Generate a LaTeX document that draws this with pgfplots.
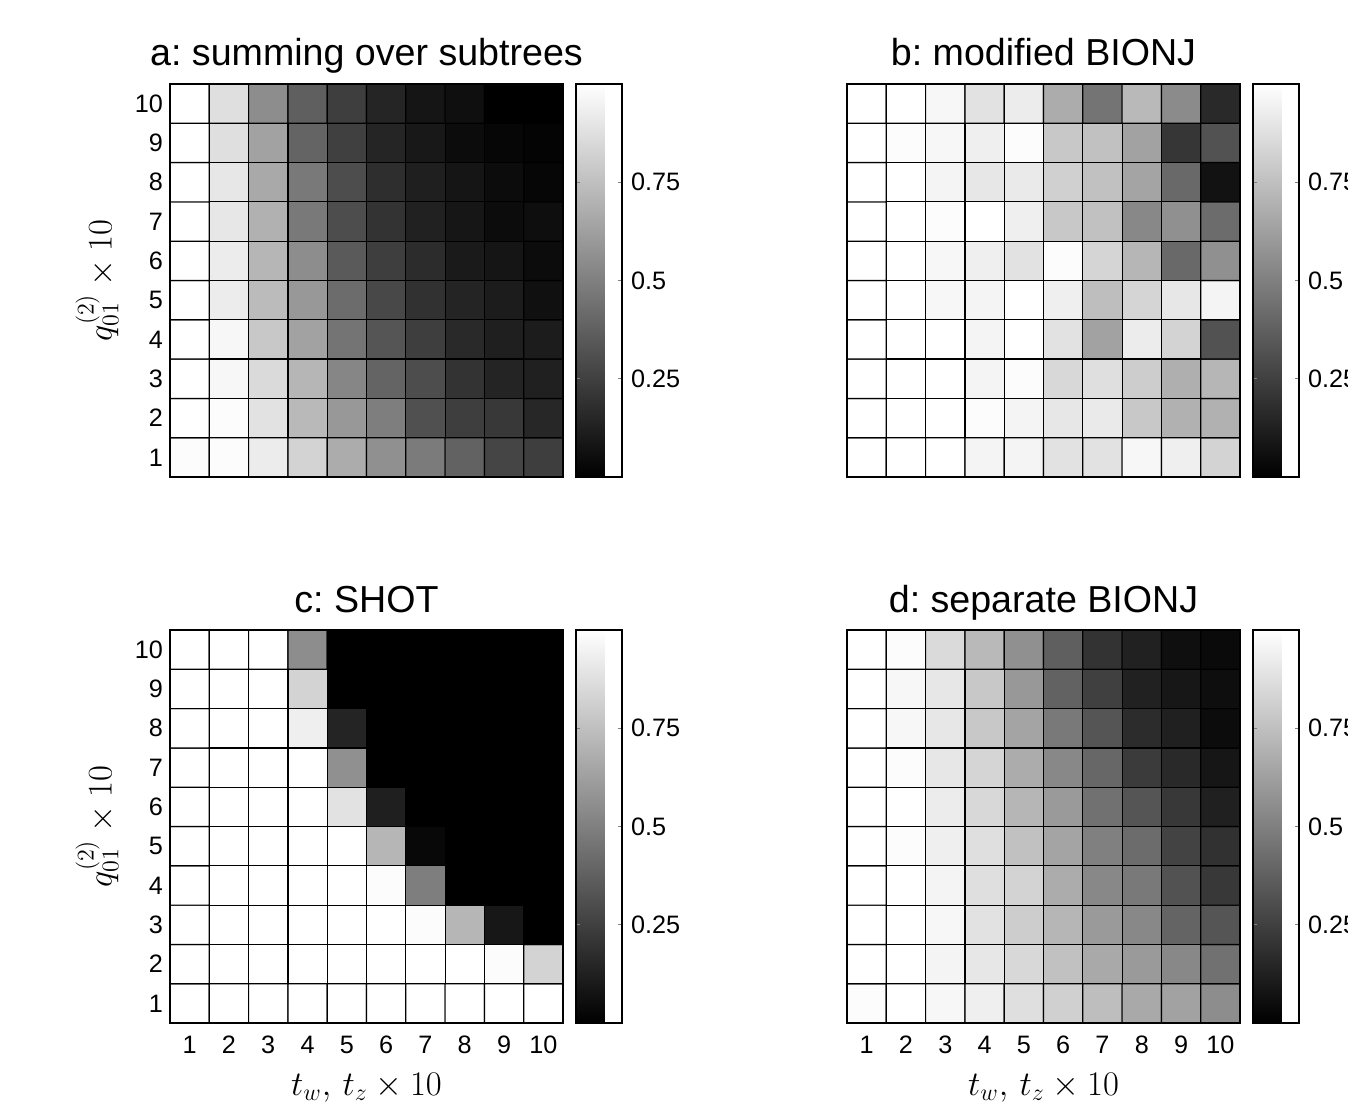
\documentclass[border=0pt]{standalone}
\usepackage[no-math]{fontspec}
\setmainfont{Liberation Sans}
\usepackage{pgfplots}
\pgfplotsset{compat=1.18}
\frenchspacing

\pgfplotsset{
 hm/.style={
  scale only axis, width=196.5pt, height=196.5pt,
  xmin=0.5, xmax=10.5, ymin=0.5, ymax=10.5,
  xtick={1,...,10}, ytick={1,...,10},
  major tick length=0pt,
  axis on top,
  axis line style={line width=0.6pt},
  colormap/blackwhite,
  point meta min=0, point meta max=1,
  colorbar,
  colorbar style={
    at={(1.033,1)}, anchor=north west,
    scale only axis, width=23pt,
    ytick={0.25,0.5,0.75},
    yticklabels={0.25,0.5,0.75},
    yticklabel pos=right,
    ytick pos=both,
    tick align=inside,
    major tick length=2pt,
    tick style={line width=0.6pt},
    axis line style={line width=0.6pt},
    yticklabel style={font=\fontsize{12.6}{15}\selectfont, xshift=1pt},
    /pgf/number format/assume math mode=true,
  },
  tick label style={font=\fontsize{12.6}{15}\selectfont},
  xticklabel style={anchor=base, yshift=-15pt},
  /pgf/number format/assume math mode=true,
  title style={at={(0.5,1)}, anchor=base, yshift=3pt, font=\fontsize{18.8}{22}\selectfont},
  label style={font=\fontsize{17}{20}\selectfont},
  xlabel style={at={(axis description cs:0.5,0)}, anchor=base, yshift=-36pt},
  ylabel style={at={(axis description cs:0,0.5)}, anchor=center, rotate=0, yshift=36.5pt},
 },
 cells/.style={matrix plot*, mesh/cols=10, point meta=explicit, draw=black, line width=0.6pt},
}

\begin{document}
\begin{tikzpicture}
\useasboundingbox (0,0) rectangle (674pt,552.5pt);

% a
\begin{axis}[hm, at={(85pt,314pt)}, anchor=south west,
  title={a: summing over subtrees}, xticklabels={},
  ylabel={$q^{(2)}_{01}\times 10$}]
\addplot[cells] coordinates {
(1,1)[0.98] (2,1)[0.98] (3,1)[0.92] (4,1)[0.82] (5,1)[0.67] (6,1)[0.56] (7,1)[0.48] (8,1)[0.38] (9,1)[0.27] (10,1)[0.24]
(1,2)[1.00] (2,2)[0.98] (3,2)[0.88] (4,2)[0.72] (5,2)[0.59] (6,2)[0.49] (7,2)[0.31] (8,2)[0.24] (9,2)[0.22] (10,2)[0.15]
(1,3)[1.00] (2,3)[0.96] (3,3)[0.85] (4,3)[0.71] (5,3)[0.52] (6,3)[0.39] (7,3)[0.30] (8,3)[0.20] (9,3)[0.14] (10,3)[0.125]
(1,4)[1.00] (2,4)[0.96] (3,4)[0.78] (4,4)[0.63] (5,4)[0.45] (6,4)[0.33] (7,4)[0.24] (8,4)[0.16] (9,4)[0.12] (10,4)[0.11]
(1,5)[1.00] (2,5)[0.92] (3,5)[0.73] (4,5)[0.59] (5,5)[0.42] (6,5)[0.28] (7,5)[0.19] (8,5)[0.14] (9,5)[0.11] (10,5)[0.063]
(1,6)[1.00] (2,6)[0.92] (3,6)[0.71] (4,6)[0.55] (5,6)[0.35] (6,6)[0.24] (7,6)[0.17] (8,6)[0.10] (9,6)[0.08] (10,6)[0.047]
(1,7)[1.00] (2,7)[0.90] (3,7)[0.69] (4,7)[0.47] (5,7)[0.30] (6,7)[0.20] (7,7)[0.13] (8,7)[0.086] (9,7)[0.047] (10,7)[0.055]
(1,8)[1.00] (2,8)[0.90] (3,8)[0.66] (4,8)[0.47] (5,8)[0.30] (6,8)[0.18] (7,8)[0.12] (8,8)[0.08] (9,8)[0.047] (10,8)[0.024]
(1,9)[1.00] (2,9)[0.87] (3,9)[0.63] (4,9)[0.39] (5,9)[0.25] (6,9)[0.145] (7,9)[0.094] (8,9)[0.047] (9,9)[0.024] (10,9)[0.016]
(1,10)[1.00] (2,10)[0.87] (3,10)[0.55] (4,10)[0.37] (5,10)[0.24] (6,10)[0.145] (7,10)[0.08] (8,10)[0.06] (9,10)[0.0] (10,10)[0.0]
};
\end{axis}

% b
\begin{axis}[hm, at={(423.5pt,314pt)}, anchor=south west,
  title={b: modified BIONJ}, xticklabels={}, yticklabels={}]
\addplot[cells] coordinates {
(1,1)[1] (2,1)[1] (3,1)[1] (4,1)[0.95] (5,1)[0.95] (6,1)[0.88] (7,1)[0.88] (8,1)[0.96] (9,1)[0.93] (10,1)[0.82]
(1,2)[1] (2,2)[1] (3,2)[1] (4,2)[0.98] (5,2)[0.95] (6,2)[0.90] (7,2)[0.91] (8,2)[0.78] (9,2)[0.69] (10,2)[0.69]
(1,3)[1] (2,3)[1] (3,3)[1] (4,3)[0.95] (5,3)[0.98] (6,3)[0.84] (7,3)[0.87] (8,3)[0.80] (9,3)[0.68] (10,3)[0.71]
(1,4)[1] (2,4)[1] (3,4)[1] (4,4)[0.95] (5,4)[1] (6,4)[0.88] (7,4)[0.63] (8,4)[0.92] (9,4)[0.82] (10,4)[0.32]
(1,5)[1] (2,5)[1] (3,5)[0.96] (4,5)[0.95] (5,5)[1] (6,5)[0.93] (7,5)[0.74] (8,5)[0.83] (9,5)[0.90] (10,5)[0.95]
(1,6)[1] (2,6)[1] (3,6)[0.96] (4,6)[0.93] (5,6)[0.88] (6,6)[0.98] (7,6)[0.83] (8,6)[0.71] (9,6)[0.41] (10,6)[0.56]
(1,7)[1] (2,7)[1] (3,7)[0.98] (4,7)[1] (5,7)[0.93] (6,7)[0.78] (7,7)[0.75] (8,7)[0.53] (9,7)[0.56] (10,7)[0.42]
(1,8)[1] (2,8)[1] (3,8)[0.95] (4,8)[0.90] (5,8)[0.91] (6,8)[0.81] (7,8)[0.75] (8,8)[0.64] (9,8)[0.41] (10,8)[0.07]
(1,9)[1] (2,9)[0.98] (3,9)[0.96] (4,9)[0.93] (5,9)[0.98] (6,9)[0.78] (7,9)[0.75] (8,9)[0.63] (9,9)[0.21] (10,9)[0.32]
(1,10)[1] (2,10)[1] (3,10)[0.96] (4,10)[0.88] (5,10)[0.92] (6,10)[0.67] (7,10)[0.45] (8,10)[0.72] (9,10)[0.54] (10,10)[0.16]
};
\end{axis}

% c
\begin{axis}[hm, at={(85pt,41pt)}, anchor=south west,
  title={c: SHOT},
  xlabel={$t_w,\, t_z\times 10$},
  ylabel={$q^{(2)}_{01}\times 10$}]
\addplot[cells] coordinates {
(1,1)[1] (2,1)[1] (3,1)[1] (4,1)[1] (5,1)[1] (6,1)[1] (7,1)[1] (8,1)[1] (9,1)[1] (10,1)[1]
(1,2)[1] (2,2)[1] (3,2)[1] (4,2)[1] (5,2)[1] (6,2)[1] (7,2)[1] (8,2)[1] (9,2)[0.98] (10,2)[0.82]
(1,3)[1] (2,3)[1] (3,3)[1] (4,3)[1] (5,3)[1] (6,3)[1] (7,3)[0.98] (8,3)[0.71] (9,3)[0.09] (10,3)[0]
(1,4)[1] (2,4)[1] (3,4)[1] (4,4)[1] (5,4)[1] (6,4)[0.98] (7,4)[0.49] (8,4)[0] (9,4)[0] (10,4)[0]
(1,5)[1] (2,5)[1] (3,5)[1] (4,5)[1] (5,5)[1] (6,5)[0.71] (7,5)[0.03] (8,5)[0] (9,5)[0] (10,5)[0]
(1,6)[1] (2,6)[1] (3,6)[1] (4,6)[1] (5,6)[0.88] (6,6)[0.12] (7,6)[0] (8,6)[0] (9,6)[0] (10,6)[0]
(1,7)[1] (2,7)[1] (3,7)[1] (4,7)[1] (5,7)[0.56] (6,7)[0] (7,7)[0] (8,7)[0] (9,7)[0] (10,7)[0]
(1,8)[1] (2,8)[1] (3,8)[1] (4,8)[0.93] (5,8)[0.14] (6,8)[0] (7,8)[0] (8,8)[0] (9,8)[0] (10,8)[0]
(1,9)[1] (2,9)[1] (3,9)[1] (4,9)[0.82] (5,9)[0] (6,9)[0] (7,9)[0] (8,9)[0] (9,9)[0] (10,9)[0]
(1,10)[1] (2,10)[1] (3,10)[1] (4,10)[0.55] (5,10)[0] (6,10)[0] (7,10)[0] (8,10)[0] (9,10)[0] (10,10)[0]
};
\end{axis}

% d
\begin{axis}[hm, at={(423.5pt,41pt)}, anchor=south west,
  title={d: separate BIONJ}, yticklabels={},
  xlabel={$t_w,\, t_z\times 10$}]
\addplot[cells] coordinates {
(1,1)[0.98] (2,1)[1] (3,1)[0.96] (4,1)[0.93] (5,1)[0.87] (6,1)[0.81] (7,1)[0.74] (8,1)[0.66] (9,1)[0.63] (10,1)[0.55]
(1,2)[1] (2,2)[1] (3,2)[0.95] (4,2)[0.90] (5,2)[0.84] (6,2)[0.75] (7,2)[0.66] (8,2)[0.60] (9,2)[0.53] (10,2)[0.44]
(1,3)[1] (2,3)[1] (3,3)[0.96] (4,3)[0.88] (5,3)[0.80] (6,3)[0.71] (7,3)[0.60] (8,3)[0.53] (9,3)[0.39] (10,3)[0.33]
(1,4)[1] (2,4)[1] (3,4)[0.95] (4,4)[0.87] (5,4)[0.82] (6,4)[0.67] (7,4)[0.53] (8,4)[0.47] (9,4)[0.32] (10,4)[0.22]
(1,5)[1] (2,5)[0.98] (3,5)[0.93] (4,5)[0.87] (5,5)[0.75] (6,5)[0.64] (7,5)[0.50] (8,5)[0.42] (9,5)[0.26] (10,5)[0.19]
(1,6)[1] (2,6)[1] (3,6)[0.92] (4,6)[0.84] (5,6)[0.71] (6,6)[0.60] (7,6)[0.44] (8,6)[0.33] (9,6)[0.22] (10,6)[0.125]
(1,7)[1] (2,7)[0.98] (3,7)[0.90] (4,7)[0.83] (5,7)[0.67] (6,7)[0.53] (7,7)[0.40] (8,7)[0.23] (9,7)[0.16] (10,7)[0.086]
(1,8)[1] (2,8)[0.96] (3,8)[0.90] (4,8)[0.78] (5,8)[0.64] (6,8)[0.47] (7,8)[0.33] (8,8)[0.17] (9,8)[0.125] (10,8)[0.047]
(1,9)[1] (2,9)[0.96] (3,9)[0.90] (4,9)[0.78] (5,9)[0.59] (6,9)[0.38] (7,9)[0.25] (8,9)[0.13] (9,9)[0.09] (10,9)[0.055]
(1,10)[1] (2,10)[0.98] (3,10)[0.85] (4,10)[0.72] (5,10)[0.56] (6,10)[0.37] (7,10)[0.20] (8,10)[0.13] (9,10)[0.06] (10,10)[0.04]
};
\end{axis}
\end{tikzpicture}
\end{document}
